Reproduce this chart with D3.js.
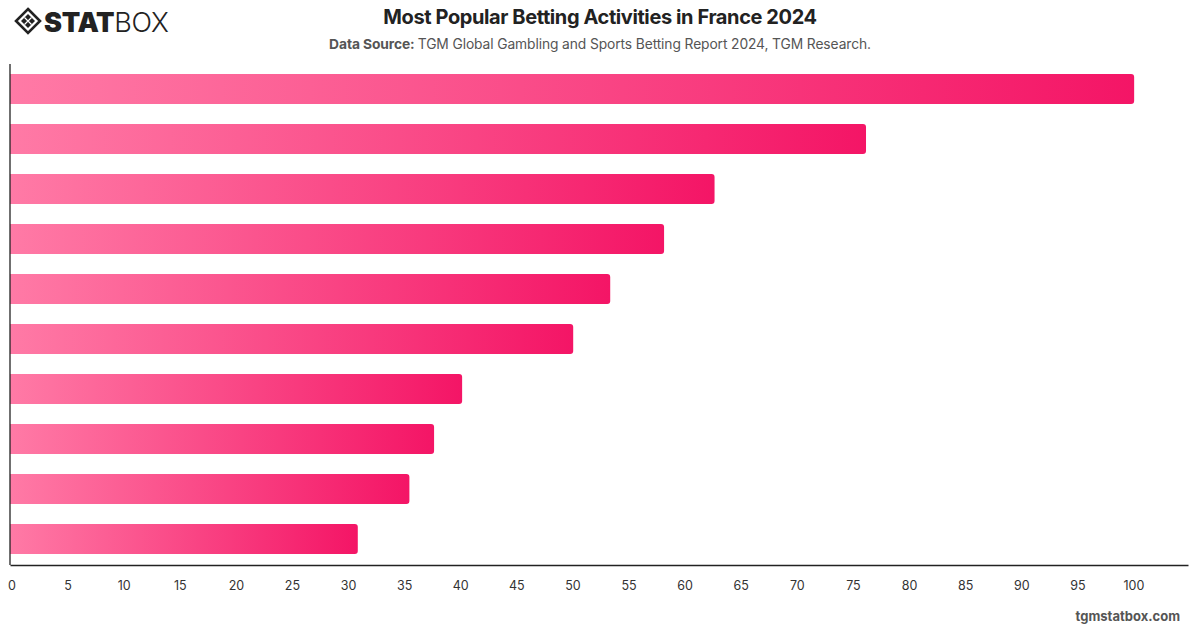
<!DOCTYPE html>
<html><head><meta charset="utf-8">
<script src="https://cdn.jsdelivr.net/npm/d3@7"></script>
<style>
html,body{margin:0;padding:0;background:#fff;}
svg{display:block;font-family:Inter,"Noto Sans",sans-serif;}
</style></head>
<body>
<svg id="chart" width="1200" height="628"></svg>
<script>
const categories = ["Activity 1","Activity 2","Activity 3","Activity 4","Activity 5","Activity 6","Activity 7","Activity 8","Activity 9","Activity 10"];
const values = [100.2, 76.3, 62.8, 58.3, 53.5, 50.2, 40.3, 37.8, 35.6, 31.0];
const tickValues = [0,5,10,15,20,25,30,35,40,45,50,55,60,65,70,75,80,85,90,95,100];

const svg = d3.select("#chart");
const W = 1200, H = 628;
const m = {left: 10, right: 12, top: 64, bottom: 64};

const x = d3.scaleLinear().domain([0, 105]).range([m.left, W - m.right]);
const y = d3.scaleBand().domain(categories).range([m.top, H - m.bottom]).paddingInner(0.4).paddingOuter(0.2);

const defs = svg.append("defs");
const grad = defs.append("linearGradient").attr("id","barGrad").attr("x1","0").attr("x2","1").attr("y1","0").attr("y2","0");
grad.append("stop").attr("offset","0%").attr("stop-color","#ff7aa6");
grad.append("stop").attr("offset","100%").attr("stop-color","#f41566");

// bars with rounded right end
const r = 3;
svg.append("g").selectAll("path").data(values).join("path")
  .attr("fill","url(#barGrad)")
  .attr("d",(d,i)=>{
    const x0 = x(0), x1 = x(d), y0 = y(categories[i]), h = y.bandwidth();
    return `M${x0},${y0}H${x1-r}Q${x1},${y0} ${x1},${y0+r}V${y0+h-r}Q${x1},${y0+h} ${x1-r},${y0+h}H${x0}Z`;
  });

// axes
const xAxis = d3.axisBottom(x).tickValues(tickValues).tickSize(0).tickPadding(16);
const gx = svg.append("g").attr("transform",`translate(0,${H - m.bottom + 1})`).call(xAxis);
gx.select(".domain").attr("stroke","#222").attr("stroke-width",1.3);
gx.selectAll("text").attr("font-size",12.5).attr("fill","#333").attr("dx",1.5).attr("font-family","Inter,'Noto Sans',sans-serif");

svg.append("line").attr("x1",x(0)).attr("x2",x(0)).attr("y1",m.top).attr("y2",H-m.bottom+1)
  .attr("stroke","#222").attr("stroke-width",1.3);

// title
svg.append("text").attr("x",600).attr("y",24).attr("text-anchor","middle")
  .attr("font-size",20).attr("font-weight",700).attr("fill","#222").attr("letter-spacing","-0.4")
  .text("Most Popular Betting Activities in France 2024");
const sub = svg.append("text").attr("x",600).attr("y",49).attr("text-anchor","middle")
  .attr("font-size",13.8).attr("fill","#555").attr("letter-spacing","-0.1");
sub.append("tspan").attr("font-weight",700).text("Data Source: ");
sub.append("tspan").text("TGM Global Gambling and Sports Betting Report 2024, TGM Research.");

// footer
svg.append("text").attr("x",1180).attr("y",621).attr("text-anchor","end")
  .attr("font-size",13).attr("font-weight",700).attr("fill","#555").text("tgmstatbox.com");

// logo
const logo = svg.append("g").attr("transform","translate(15,8)");
logo.append("path").attr("d","M13,1 L25,13 L13,25 L1,13 Z").attr("fill","none").attr("stroke","#222").attr("stroke-width",2.6);
logo.append("path").attr("d","M13,6 L20,13 L13,20 L6,13 Z").attr("fill","#222");
logo.append("path").attr("d","M9.5,9.5 L16.5,16.5 M16.5,9.5 L9.5,16.5").attr("stroke","#fff").attr("stroke-width",1.2);
const lt = logo.append("text").attr("x",29).attr("y",24).attr("font-size",27).attr("fill","#222").attr("letter-spacing","-0.3");
lt.append("tspan").attr("font-weight",900).text("STAT");
lt.append("tspan").attr("font-weight",300).text("BOX");
</script>
</body></html>
